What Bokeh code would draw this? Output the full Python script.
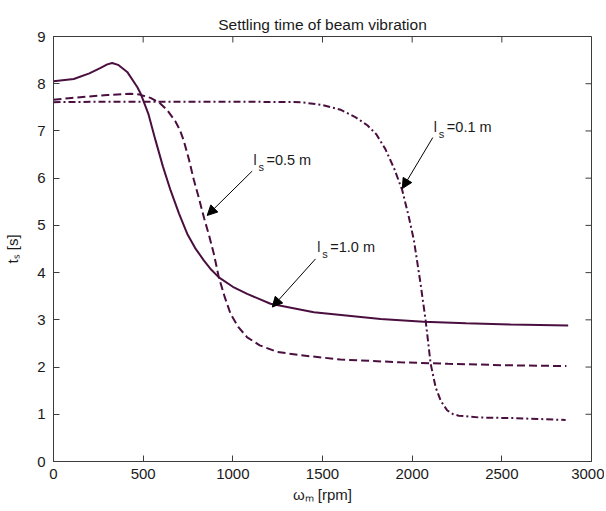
import numpy as np
from bokeh.plotting import figure
from bokeh.models import Range1d, Label, Arrow, NormalHead, FixedTicker
from bokeh.embed import file_html
from bokeh.resources import INLINE

# l_s = 1.0 m (solid)
x_10 = [0, 113, 200, 260, 300, 327, 360, 411, 467, 485, 530, 569, 610, 653, 700, 746, 790,
        838, 880, 922, 1000, 1080, 1210, 1452, 1824, 2064, 2300, 2550, 2870]
y_10 = [8.05, 8.1, 8.22, 8.33, 8.41, 8.44, 8.4, 8.25, 7.93, 7.8, 7.35, 6.8, 6.25, 5.74,
        5.25, 4.82, 4.52, 4.26, 4.06, 3.9, 3.7, 3.55, 3.34, 3.16, 3.02, 2.96, 2.93, 2.9, 2.88]

# l_s = 0.5 m (dashed)
x_05 = [0, 100, 200, 300, 429, 480, 541, 590, 634, 680, 705, 726, 755, 782, 812, 840, 868,
        894, 922, 955, 987, 1030, 1080, 1150, 1248, 1378, 1600, 1935, 2200, 2500, 2860]
y_05 = [7.66, 7.7, 7.73, 7.76, 7.79, 7.77, 7.7, 7.6, 7.44, 7.2, 7.02, 6.8, 6.4, 5.97,
        5.56, 5.15, 4.78, 4.4, 3.9, 3.48, 3.13, 2.85, 2.63, 2.46, 2.32, 2.25, 2.16, 2.1,
        2.07, 2.04, 2.02]

# l_s = 0.1 m (dash-dot)
x_01 = [0, 300, 700, 1000, 1378, 1500, 1600, 1680, 1750, 1800, 1850, 1900, 1945, 1980,
        2010, 2047, 2075, 2103, 2131, 2160, 2196, 2230, 2260, 2382, 2566, 2700, 2856]
y_01 = [7.61, 7.62, 7.62, 7.62, 7.61, 7.55, 7.45, 7.3, 7.12, 6.93, 6.62, 6.2, 5.74, 5.2,
        4.68, 3.76, 2.99, 2.07, 1.57, 1.28, 1.08, 1.0, 0.97, 0.93, 0.92, 0.9, 0.88]

x_ticks = [0, 500, 1000, 1500, 2000, 2500, 3000]
y_ticks = [0, 1, 2, 3, 4, 5, 6, 7, 8, 9]

title_text = "Settling time of beam vibration"
x_label = "ωₘ [rpm]"
y_label = "tₛ [s]"
labels = ["0.5 m", "1.0 m", "0.1 m"]
label_pos = [(1115, 6.39), (1471, 4.54), (2121, 7.08)]
arrows = [((1108, 6.15), (857, 5.21)), ((1461, 4.29), (1220, 3.27)), ((2115, 6.86), (1945, 5.78))]

LINE = "#4a0f3f"
FONT = "Liberation Sans"
AXC = "#3c3c3c"
TXT = "#1a1a1a"

p = figure(width=604, height=508, output_backend="svg", toolbar_location=None,
           x_range=Range1d(0, 3000), y_range=Range1d(0, 9),
           min_border_left=53, min_border_right=13, min_border_top=36, min_border_bottom=47)
p.background_fill_color = "white"
p.border_fill_color = "white"
p.outline_line_color = AXC
p.outline_line_width = 1
p.grid.visible = False

p.title.text = title_text
p.title.align = "center"
p.title.text_font = FONT
p.title.text_font_size = "15.5px"
p.title.text_font_style = "normal"
p.title.text_color = TXT
p.title.standoff = 8

for ax in [p.xaxis[0], p.yaxis[0]]:
    ax.axis_line_color = AXC
    ax.major_tick_line_color = AXC
    ax.major_tick_in = 6
    ax.major_tick_out = 0
    ax.minor_tick_line_color = None
    ax.major_label_text_font = FONT
    ax.major_label_text_font_size = "15px"
    ax.major_label_text_color = TXT
    ax.axis_label_text_font = FONT
    ax.axis_label_text_font_size = "15px"
    ax.axis_label_text_font_style = "normal"
    ax.axis_label_text_color = TXT
p.xaxis.ticker = FixedTicker(ticks=x_ticks)
p.yaxis.ticker = FixedTicker(ticks=y_ticks)
p.xaxis.major_label_standoff = 7
p.yaxis.major_label_standoff = 8
p.xaxis.axis_label = x_label
p.yaxis.axis_label = y_label
p.xaxis.axis_label_standoff = 4
p.yaxis.axis_label_standoff = 13

# inward ticks on the top and right edges of the box
p.ray(x=x_ticks, y=[9] * len(x_ticks), length=6, length_units="screen",
      angle=-np.pi / 2, line_color=AXC, line_width=1)
p.ray(x=[3000] * len(y_ticks), y=y_ticks, length=6, length_units="screen",
      angle=np.pi, line_color=AXC, line_width=1)

p.line(x_10, y_10, line_color=LINE, line_width=2)
p.line(x_05, y_05, line_color=LINE, line_width=2, line_dash="8 4")
p.line(x_01, y_01, line_color=LINE, line_width=2, line_dash="7 3 2 3")

for (xs, ys), (xe, ye) in arrows:
    p.add_layout(Arrow(x_start=xs, y_start=ys, x_end=xe, y_end=ye, line_color="black",
                       line_width=1,
                       end=NormalHead(size=10, fill_color="black", line_color="black")))

for txt, (lx, ly) in zip(labels, label_pos):
    p.add_layout(Label(x=lx, y=ly, text="l", text_font=FONT, text_font_size="14px",
                       text_color=TXT, text_baseline="alphabetic"))
    p.add_layout(Label(x=lx, y=ly, x_offset=5, y_offset=-7, text="s", text_font=FONT,
                       text_font_size="11px", text_color=TXT, text_baseline="alphabetic"))
    p.add_layout(Label(x=lx, y=ly, x_offset=13, text="=" + txt, text_font=FONT,
                       text_font_size="14.5px", text_color=TXT, text_baseline="alphabetic"))

open("out.html", "w").write(file_html(p, INLINE))
